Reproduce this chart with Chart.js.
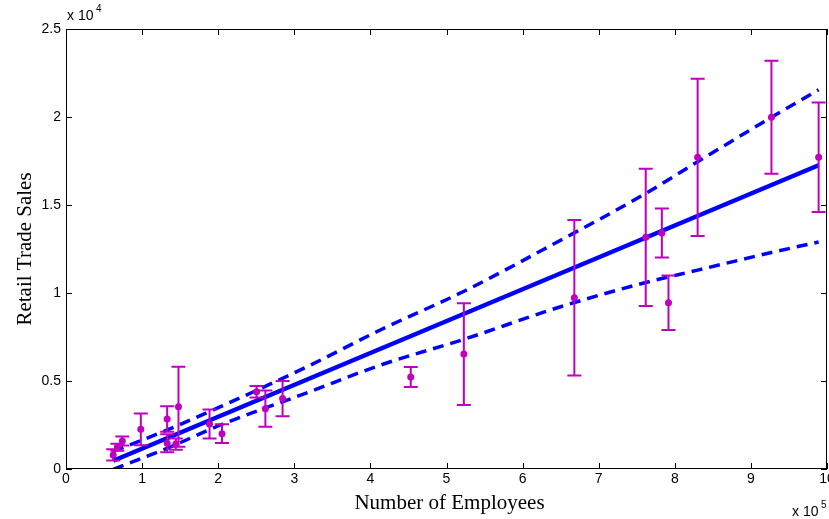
<!DOCTYPE html>
<html>
<head>
<meta charset="utf-8">
<script src="https://cdn.jsdelivr.net/npm/chart.js@4.4.1/dist/chart.umd.min.js"></script>
<style>
  html, body { margin: 0; padding: 0; background: #fff; }
  canvas { display: block; }
</style>
</head>
<body>
<canvas id="salesChart" width="829" height="519"></canvas>
<script>
// observations: employees vs retail trade sales, with +/- error
const employees = [62000, 67500, 74000, 98300, 132900, 133000, 144300, 147800, 188600, 205000, 250400,
  262000, 284600, 453000, 522800, 668000, 761800, 783000, 791700, 830000, 927000, 989000];
const sales = [800, 1230, 1590, 2256, 2840, 1460, 1420, 3540, 2557, 2006, 4390,
  3430, 4000, 5230, 6530, 9730, 13165, 13410, 9450, 17710, 19980, 17710];
const salesErr = [320, 200, 260, 900, 720, 510, 320, 2270, 830, 530, 330,
  1030, 1000, 570, 2890, 4420, 3900, 1390, 1550, 4470, 3210, 3110];

// fitted line and its confidence bounds
const fitX = [62000, 989000];
const fitY = [470, 17256];
const bandX = [62000, 133000, 203000, 321000, 413000, 523000, 650000, 762000, 830000, 927000, 989000];
const bandUpper = [1000, 2220, 3540, 5900, 7900, 10100, 13000, 15660, 17460, 19980, 21550];
const bandLower = [-20, 1180, 2500, 4400, 5900, 7370, 9220, 10600, 11300, 12300, 12900];

const xTicks = [0, 1, 2, 3, 4, 5, 6, 7, 8, 9, 10];
const yTicks = [0, 0.5, 1, 1.5, 2, 2.5];
const xScaleExp = 5;
const yScaleExp = 4;

const MAGENTA = "rgb(191, 0, 191)";
const BLUE = "rgb(0, 0, 255)";

const toPts = (xs, ys) => xs.map((x, i) => ({ x, y: ys[i] }));

const errorBars = {
  id: "errorBars",
  afterDatasetsDraw(chart) {
    const { ctx, scales: { x, y } } = chart;
    ctx.save();
    ctx.strokeStyle = MAGENTA;
    ctx.lineWidth = 2;
    employees.forEach((e, i) => {
      const px = x.getPixelForValue(e);
      const top = y.getPixelForValue(sales[i] + salesErr[i]);
      const bot = y.getPixelForValue(sales[i] - salesErr[i]);
      ctx.beginPath();
      ctx.moveTo(px, top); ctx.lineTo(px, bot);
      ctx.moveTo(px - 7, top); ctx.lineTo(px + 7, top);
      ctx.moveTo(px - 7, bot); ctx.lineTo(px + 7, bot);
      ctx.stroke();
    });
    ctx.fillStyle = MAGENTA;
    employees.forEach((e, i) => {
      ctx.beginPath();
      ctx.arc(x.getPixelForValue(e), y.getPixelForValue(sales[i]), 3.5, 0, Math.PI * 2);
      ctx.fill();
    });
    ctx.restore();
  },
};

const matlabAxes = {
  id: "matlabAxes",
  afterDraw(chart) {
    const { ctx, chartArea: a, scales: { x, y } } = chart;
    ctx.save();
    ctx.strokeStyle = "#000";
    ctx.lineWidth = 1;
    ctx.strokeRect(a.left + 0.5, a.top + 0.5, a.right - a.left - 1, a.bottom - a.top - 1);

    ctx.beginPath();
    xTicks.forEach((t) => {
      const px = Math.round(x.getPixelForValue(t * 10 ** xScaleExp)) + 0.5;
      ctx.moveTo(px, a.bottom); ctx.lineTo(px, a.bottom - 6);
      ctx.moveTo(px, a.top); ctx.lineTo(px, a.top + 6);
    });
    yTicks.forEach((t) => {
      const py = Math.round(y.getPixelForValue(t * 10 ** yScaleExp)) + 0.5;
      ctx.moveTo(a.left, py); ctx.lineTo(a.left + 6, py);
      ctx.moveTo(a.right, py); ctx.lineTo(a.right - 6, py);
    });
    ctx.stroke();

    ctx.fillStyle = "#000";
    ctx.font = "14px 'Liberation Sans', Arial, sans-serif";
    ctx.textAlign = "center";
    ctx.textBaseline = "middle";
    xTicks.forEach((t) => ctx.fillText(String(t), x.getPixelForValue(t * 10 ** xScaleExp), a.bottom + 10));
    ctx.textAlign = "right";
    yTicks.forEach((t) => ctx.fillText(String(t), a.left - 5, y.getPixelForValue(t * 10 ** yScaleExp)));

    // exponent labels
    ctx.textAlign = "left";
    ctx.textBaseline = "alphabetic";
    ctx.fillText("x 10", 67, 20);
    ctx.fillText("x 10", 792, 516);
    ctx.font = "10px 'Liberation Sans', Arial, sans-serif";
    ctx.fillText(String(yScaleExp), 96, 12);
    ctx.fillText(String(xScaleExp), 821, 508);

    ctx.font = "21px 'Liberation Serif', 'Times New Roman', serif";
    ctx.textAlign = "center";
    ctx.textBaseline = "middle";
    ctx.fillText("Number of Employees", (a.left + a.right) / 2 + 3, 503);
    ctx.translate(25, (a.top + a.bottom) / 2);
    ctx.rotate(-Math.PI / 2);
    ctx.fillText("Retail Trade Sales", 0, 0);
    ctx.restore();
  },
};

new Chart(document.getElementById("salesChart"), {
  type: "scatter",
  data: {
    datasets: [
      {
        label: "Fit",
        data: toPts(fitX, fitY),
        showLine: true,
        borderColor: BLUE,
        borderWidth: 4.5,
        pointRadius: 0,
      },
      {
        label: "Upper bound",
        data: toPts(bandX, bandUpper),
        showLine: true,
        borderColor: BLUE,
        borderWidth: 3.5,
        borderDash: [11, 7],
        pointRadius: 0,
        cubicInterpolationMode: "monotone",
      },
      {
        label: "Lower bound",
        data: toPts(bandX, bandLower),
        showLine: true,
        borderColor: BLUE,
        borderWidth: 3.5,
        borderDash: [11, 7],
        pointRadius: 0,
        cubicInterpolationMode: "monotone",
      },
    ],
  },
  options: {
    responsive: false,
    animation: false,
    layout: { padding: { left: 66, top: 29, right: 2, bottom: 50 } },
    plugins: { legend: { display: false }, tooltip: { enabled: false } },
    scales: {
      x: { type: "linear", display: false, min: 0, max: 10 ** 6 },
      y: { type: "linear", display: false, min: 0, max: 25000 },
    },
  },
  plugins: [errorBars, matlabAxes],
});
</script>
</body>
</html>
